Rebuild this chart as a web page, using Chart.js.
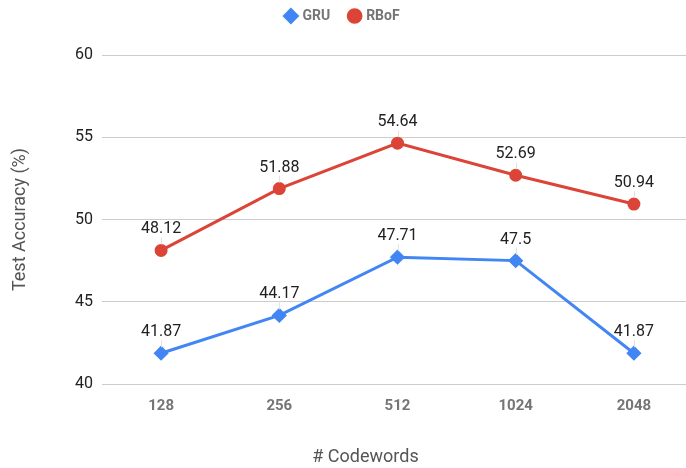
<!DOCTYPE html>
<html>
<head>
<meta charset="utf-8">
<script src="https://cdn.jsdelivr.net/npm/chart.js@4"></script>
<style>
  html, body { margin: 0; padding: 0; background: #fff; }
  #wrap { width: 686px; height: 468px; }
</style>
</head>
<body>
<div id="wrap"><canvas id="chart" width="686" height="468"></canvas></div>
<script>
// values
const codewords = ['128', '256', '512', '1024', '2048'];
const gruAcc = [41.87, 44.17, 47.71, 47.5, 41.87];
const rbofAcc = [48.12, 51.88, 54.64, 52.69, 50.94];
const yTicks = [40, 45, 50, 55, 60];

// draws the value above each point, with a faint leader line
const pointLabels = {
    id: 'pointLabels',
    afterDatasetsDraw(chart) {
        const ctx = chart.ctx;
        ctx.save();
        chart.data.datasets.forEach((ds, i) => {
            chart.getDatasetMeta(i).data.forEach((pt, j) => {
                ctx.strokeStyle = '#e2e2e2';
                ctx.lineWidth = 1;
                ctx.beginPath();
                ctx.moveTo(Math.round(pt.x) + 0.5, pt.y - 6);
                ctx.lineTo(Math.round(pt.x) + 0.5, pt.y - 13);
                ctx.stroke();
                ctx.font = '16px Roboto';
                ctx.fillStyle = '#212121';
                ctx.textAlign = 'center';
                ctx.textBaseline = 'bottom';
                ctx.fillText(String(ds.data[j]), pt.x, pt.y - 13);
            });
        });
        ctx.restore();
    }
};

// fixed legend height, legend nudged up, plot area runs past the right edge like the original
const layoutTweaks = {
    id: 'layoutTweaks',
    beforeInit(chart) {
        const lg = chart.legend;
        const fit = lg.fit;
        lg.fit = function () {
            fit.call(this);
            this.height = 55;
        };
    },
    afterLayout(chart) {
        chart.legend.top -= 11;
        chart.legend.bottom -= 11;
        const x = chart.scales.x;
        x.right = 693;
        x.width = x.right - x.left;
        x.configure();
        chart.chartArea.right = 693;
        chart.chartArea.width = 693 - chart.chartArea.left;
        // the axis title in the original sits left of the plot centre
        x.right = 629;
    }
};

new Chart(document.getElementById('chart').getContext('2d'), {
    type: 'line',
    data: {
        labels: codewords,
        datasets: [{
            label: 'GRU',
            data: gruAcc,
            borderColor: '#4285F4',
            backgroundColor: '#4285F4',
            borderWidth: 3,
            pointStyle: 'rectRot',
            pointRadius: 5.5,
            tension: 0,
            clip: false
        }, {
            label: 'RBoF',
            data: rbofAcc,
            borderColor: '#DB4437',
            backgroundColor: '#DB4437',
            borderWidth: 3,
            pointStyle: 'circle',
            pointRadius: 5,
            tension: 0,
            clip: false
        }]
    },
    options: {
        responsive: false,
        animation: false,
        layout: { padding: 0 },
        plugins: {
            legend: {
                position: 'top',
                labels: {
                    usePointStyle: true,
                    boxWidth: 9,
                    boxHeight: 9,
                    padding: 20,
                    color: '#757575',
                    font: { family: 'Roboto', size: 14, weight: 'bold' }
                }
            },
            tooltip: { enabled: false }
        },
        scales: {
            x: {
                offset: true,
                grid: { display: false, drawTicks: false },
                border: { display: false },
                ticks: {
                    padding: 13,
                    color: '#757575',
                    font: { family: 'Roboto', size: 15, weight: 'bold' }
                },
                title: {
                    display: true,
                    text: '# Codewords',
                    color: '#555',
                    padding: { top: 4, bottom: 0 },
                    font: { family: 'Roboto', size: 18 }
                },
                afterFit: s => { s.height = 84; }
            },
            y: {
                min: yTicks[0],
                max: yTicks[yTicks.length - 1],
                afterBuildTicks: s => { s.ticks = yTicks.map(v => ({ value: v })); },
                grid: { color: '#cccccc', drawTicks: false },
                border: { display: false },
                ticks: {
                    padding: 9,
                    color: '#222',
                    font: { family: 'Roboto', size: 16 }
                },
                title: {
                    display: true,
                    text: 'Test Accuracy (%)',
                    color: '#555',
                    padding: { top: 10, bottom: 8 },
                    font: { family: 'Roboto', size: 18 }
                },
                afterFit: s => { s.width = 102; }
            }
        }
    },
    plugins: [pointLabels, layoutTweaks]
});
</script>
</body>
</html>
